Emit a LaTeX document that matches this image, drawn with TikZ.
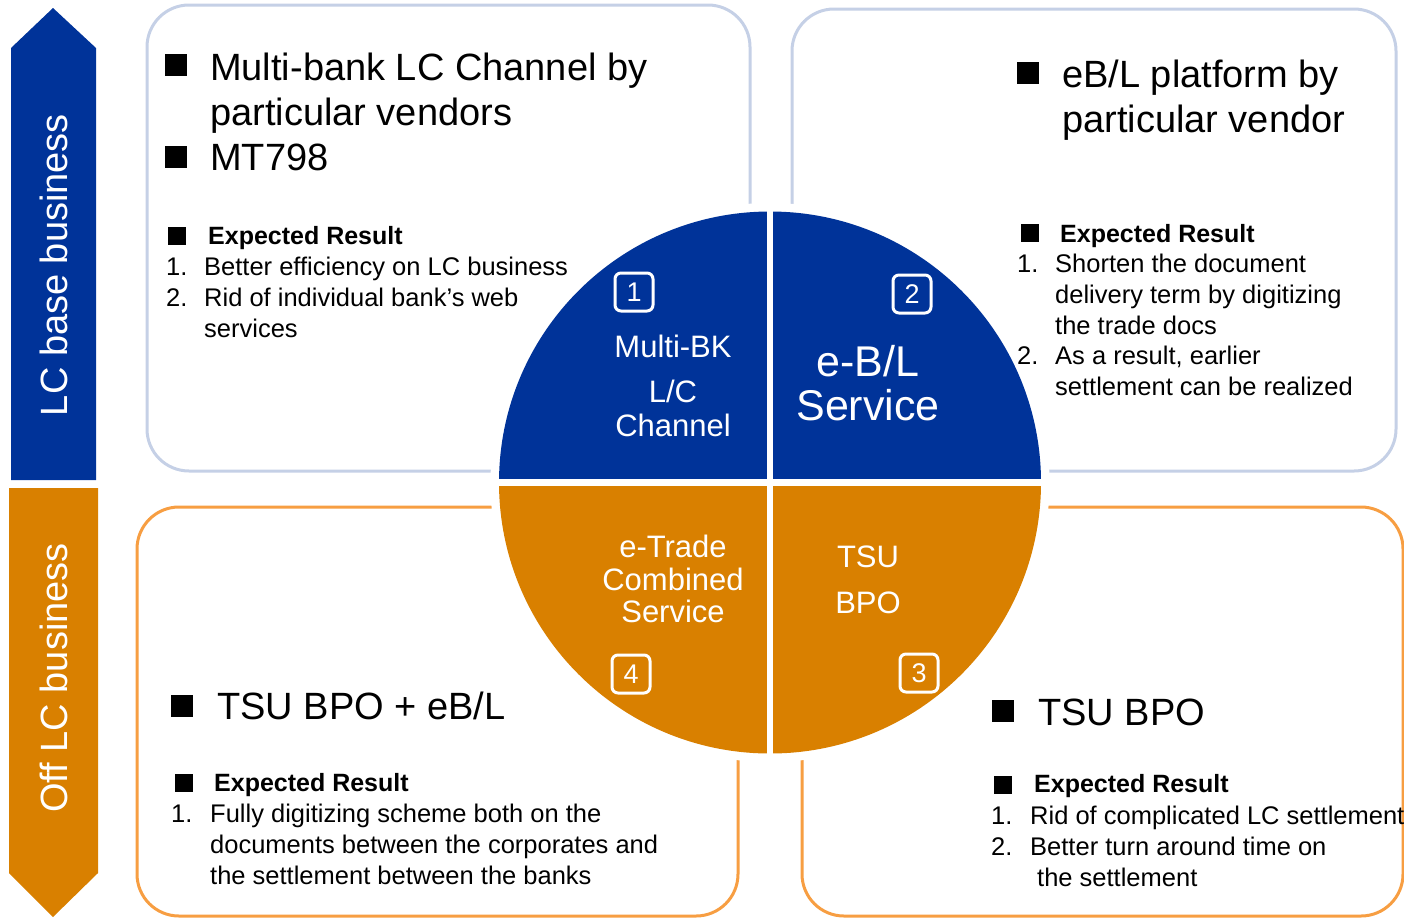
\documentclass[tikz,border=0pt]{standalone}
\usepackage{fontspec}
\setmainfont{Liberation Sans}
\definecolor{lcblue}{RGB}{0,51,153}
\definecolor{offorange}{RGB}{217,128,0}
\definecolor{topline}{RGB}{197,208,230}
\definecolor{botline}{RGB}{247,158,66}
\tikzset{topbox/.style = {draw=topline, line width=3pt, rounded corners=42pt, fill=white}}
\tikzset{botbox/.style = {draw=botline, line width=3pt, rounded corners=42pt, fill=white}}
\tikzset{sidetext/.style = {text=white, rotate=90, inner sep=0, font=\fontsize{38}{40}\selectfont}}
\tikzset{bigline/.style = {anchor=base west, inner sep=0, align=left, font=\fontsize{38}{45}\selectfont}}
\tikzset{reshead/.style = {anchor=base west, inner sep=0, font=\bfseries\fontsize{25}{28}\selectfont}}
\tikzset{resline/.style = {anchor=base west, inner sep=0, align=left, font=\fontsize{25.5}{31}\selectfont}}
\tikzset{bigsq/.style = {fill=black, inner sep=0, minimum size=22pt}}
\tikzset{smallsq/.style = {fill=black, inner sep=0, minimum size=18pt}}
\tikzset{quadtext/.style = {anchor=base, inner sep=0, text=white, font=\fontsize{31}{34}\selectfont}}
\tikzset{numbox/.style = {draw=white, line width=3pt, rounded corners=6pt, minimum width=38pt, minimum height=38pt, inner sep=0, text=white, font=\fontsize{27}{30}\selectfont}}

\begin{document}
\begin{tikzpicture}[x=1pt, y=-1pt]
  \useasboundingbox (0,0) rectangle (1404,919);

  \fill[lcblue] (11,480) -- (11,48) -- (53,8) -- (96,48) -- (96,480) -- cycle;
  \fill[offorange] (9,488) -- (9,873) -- (53,917) -- (98,873) -- (98,488) -- cycle;
  \node[sidetext] (lcbase) at (54,265) {LC base business};
  \node[sidetext] (offlc) at (54,678) {Off LC business};

  \draw[topbox] (147,5) rectangle (750,471);
  \draw[topbox] (792,9) rectangle (1396,471);
  \draw[botbox] (137,507) rectangle (738,916);
  \draw[botbox] (802,507) rectangle (1403,916);

  \filldraw[white, line width=9pt] (770,482.5) circle[radius=275];
  \fill[lcblue] (499,482.5) arc[start angle=180, end angle=360, radius=271] -- cycle;
  \fill[offorange] (499,482.5) arc[start angle=180, end angle=0, radius=271] -- cycle;
  \draw[white, line width=6.5pt] (770,205) -- (770,760);
  \draw[white, line width=7pt] (490,482.5) -- (1050,482.5);

  \node[quadtext] (mbk1) at (673,357) {Multi-BK};
  \node[quadtext] (mbk2) at (673,402) {L/C};
  \node[quadtext] (mbk3) at (673,436) {Channel};
  \node[quadtext, font=\fontsize{43}{44}\selectfont] (ebl1) at (868,376) {e-B/L};
  \node[quadtext, font=\fontsize{43}{44}\selectfont] (ebl2) at (868,420) {Service};
  \node[quadtext] (etr1) at (673,557) {e-Trade};
  \node[quadtext] (etr2) at (673,590) {Combined};
  \node[quadtext] (etr3) at (673,622) {Service};
  \node[quadtext] (tsu1) at (868,567) {TSU};
  \node[quadtext] (tsu2) at (868,613) {BPO};

  \node[numbox] (n1) at (634,292) {1};
  \node[numbox] (n2) at (912,294) {2};
  \node[numbox] (n3) at (919,673) {3};
  \node[numbox] (n4) at (631,674) {4};

  \node[bigsq] (tlsq1) at (176,65) {};
  \node[bigline] (tlhead) at (210,125) {Multi-bank LC Channel by\\particular vendors};
  \node[bigsq] (tlsq2) at (176,157) {};
  \node[bigline] (tlmt) at (210,170) {MT798};
  \node[smallsq] (tlsq3) at (177,236) {};
  \node[reshead] (tlres) at (208,244) {Expected Result};
  \node[resline] (tln1) at (166,275) {1.};
  \node[resline] (tlr1) at (204,275) {Better efficiency on LC business};
  \node[resline] (tln2) at (166,306) {2.};
  \node[resline] (tlr2) at (204,337) {Rid of individual bank’s web\\services};

  \node[bigsq] (trsq1) at (1028,73) {};
  \node[bigline] (trhead) at (1062,132) {eB/L platform by\\particular vendor};
  \node[smallsq] (trsq2) at (1030,233) {};
  \node[reshead] (trres) at (1060,242) {Expected Result};
  \node[resline] (trn1) at (1017,272) {1.};
  \node[resline] (trr1) at (1055,334) {Shorten the document\\delivery term by digitizing\\the trade docs};
  \node[resline] (trn2) at (1017,364) {2.};
  \node[resline] (trr2) at (1055,395) {As a result, earlier\\settlement can be realized};

  \node[bigsq] (blsq1) at (182,706) {};
  \node[bigline] (blhead) at (217,719) {TSU BPO + eB/L};
  \node[smallsq] (blsq2) at (184,783) {};
  \node[reshead] (blres) at (214,791) {Expected Result};
  \node[resline] (bln1) at (171,822) {1.};
  \node[resline] (blr1) at (210,884) {Fully digitizing scheme both on the\\documents between the corporates and\\the settlement between the banks};

  \node[bigsq] (brsq1) at (1003,711) {};
  \node[bigline] (brhead) at (1038,725) {TSU BPO};
  \node[smallsq] (brsq2) at (1003,785) {};
  \node[reshead] (brres) at (1034,792) {Expected Result};
  \node[resline] (brn1) at (991,824) {1.};
  \node[resline] (brr1) at (1030,824) {Rid of complicated LC settlement};
  \node[resline] (brn2) at (991,855) {2.};
  \node[resline] (brr2) at (1030,855) {Better turn around time on};
  \node[resline] (brr3) at (1037,886) {the settlement};
\end{tikzpicture}
\end{document}
